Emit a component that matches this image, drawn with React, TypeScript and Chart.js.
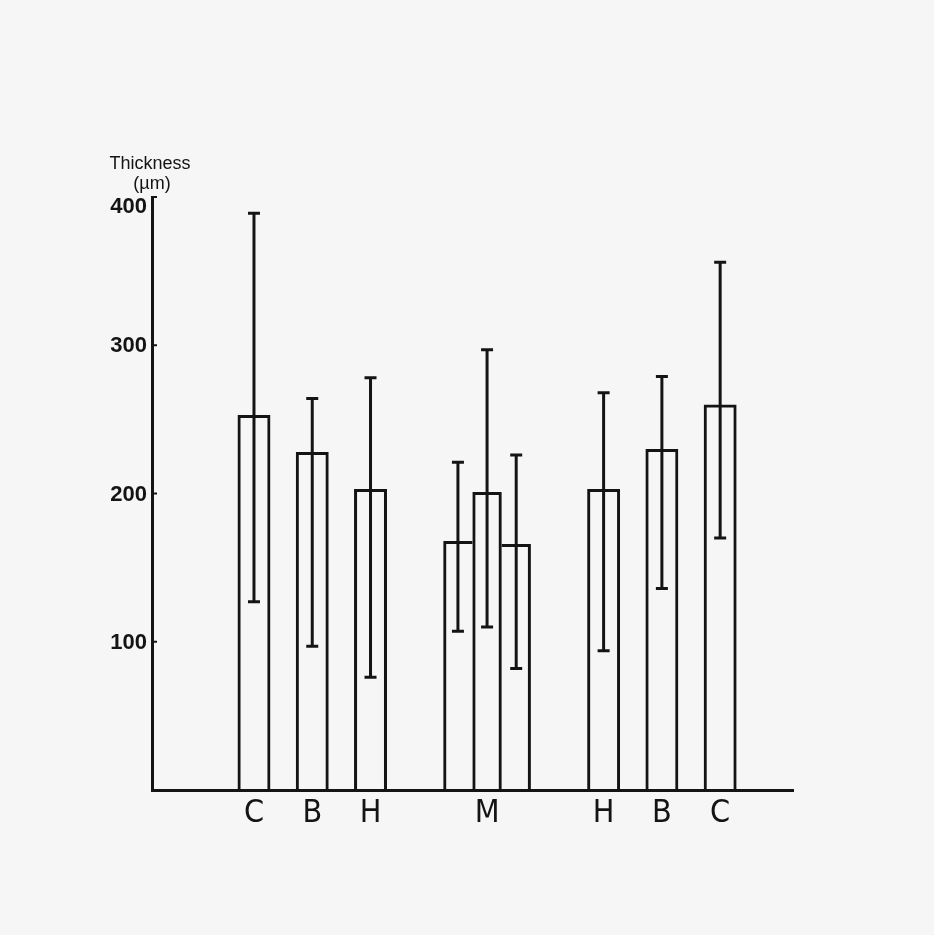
import React, { useEffect, useRef } from "react";
import { Chart, registerables } from "chart.js";

Chart.register(...registerables);

// 22 category slots; blank slots create the gaps between groups
const categories = ["", "", "", "C", "", "B", "", "H", "", "", "", "M", "", "", "", "H", "", "B", "", "C", "", ""];
// outer groups (C, B, H ... H, B, C)
const sideMeans: (number | null)[] = [null, null, null, 253, null, 228, null, 203, null, null, null, null, null, null, null, 203, null, 230, null, 260, null, null];
// middle group (M), three adjoining bars
const middleMeans: (number | null)[] = [null, null, null, null, null, null, null, null, null, null, 168, 201, 166, null, null, null, null, null, null, null, null, null];
const errorHigh: (number | null)[] = [null, null, null, 389, null, 264, null, 278, null, null, 221, 297, 226, null, null, 268, null, 279, null, 356, null, null];
const errorLow: (number | null)[] = [null, null, null, 127, null, 97, null, 76, null, null, 107, 110, 82, null, null, 94, null, 136, null, 170, null, null];
const yTicks = [100, 200, 300, 400];
const axisTitle = ["Thickness", "(µm)"];

const INK = "#141414";

const bgPlugin = {
  id: "bg",
  beforeDraw(chart: any) {
    const { ctx, width, height } = chart;
    ctx.save();
    ctx.fillStyle = "#f6f6f6";
    ctx.fillRect(0, 0, width, height);
    ctx.restore();
  },
};

const overlayPlugin = {
  id: "overlay",
  afterDatasetsDraw(chart: any) {
    const { ctx } = chart;
    const xs = chart.scales.x;
    const ys = chart.scales.y;
    ctx.save();
    ctx.strokeStyle = INK;
    ctx.lineCap = "butt";
    errorHigh.forEach((hi, i) => {
      const lo = errorLow[i];
      if (hi == null || lo == null) return;
      const x = xs.getPixelForValue(i);
      const yh = ys.getPixelForValue(hi);
      const yl = ys.getPixelForValue(lo);
      ctx.lineWidth = 3;
      ctx.beginPath();
      ctx.moveTo(x, yh);
      ctx.lineTo(x, yl);
      ctx.stroke();
      ctx.beginPath();
      ctx.moveTo(x - 6, yh);
      ctx.lineTo(x + 6, yh);
      ctx.moveTo(x - 6, yl);
      ctx.lineTo(x + 6, yl);
      ctx.stroke();
    });
    const left = chart.chartArea.left;
    // small tick marks to the right of the y axis
    ctx.lineWidth = 2;
    yTicks.forEach((v) => {
      const y = ys.getPixelForValue(v);
      ctx.beginPath();
      ctx.moveTo(left, y);
      ctx.lineTo(left + 5, y);
      ctx.stroke();
    });
    // y tick labels
    ctx.fillStyle = INK;
    ctx.font = "bold 22px 'Liberation Sans', Arial, sans-serif";
    ctx.textAlign = "right";
    ctx.textBaseline = "middle";
    yTicks.forEach((v, i) => {
      const y = ys.getPixelForValue(v) + (i === yTicks.length - 1 ? 10 : 1);
      ctx.fillText(String(v), left - 5, y);
    });
    // axis title
    ctx.font = "18px 'Liberation Sans', Arial, sans-serif";
    ctx.textAlign = "center";
    ctx.textBaseline = "alphabetic";
    ctx.fillText(axisTitle[0], left - 2, 169);
    ctx.fillText(axisTitle[1], left, 189);
    ctx.restore();
  },
};

export default function App() {
  const ref = useRef<HTMLCanvasElement | null>(null);

  useEffect(() => {
    if (!ref.current) return;
    const chart = new Chart(ref.current, {
      type: "bar",
      data: {
        labels: categories,
        datasets: [
          {
            data: sideMeans,
            backgroundColor: "rgba(0,0,0,0)",
            borderColor: INK,
            borderWidth: { top: 3, left: 3, right: 3, bottom: 0 },
            borderSkipped: false,
            barPercentage: 1.13,
            categoryPercentage: 1,
            grouped: false,
          } as any,
          {
            data: middleMeans,
            backgroundColor: "rgba(0,0,0,0)",
            borderColor: INK,
            borderWidth: (c: any) =>
              c.dataIndex === 10
                ? { top: 3, left: 3, right: 0, bottom: 0 }
                : c.dataIndex === 12
                ? { top: 3, left: 0, right: 3, bottom: 0 }
                : { top: 3, left: 3, right: 3, bottom: 0 },
            borderSkipped: false,
            barPercentage: 1.01,
            categoryPercentage: 1,
            grouped: false,
          } as any,
        ],
      },
      options: {
        animation: false,
        responsive: false,
        devicePixelRatio: 1,
        layout: { padding: { left: 92, right: 141, top: 197, bottom: 90 } },
        plugins: {
          legend: { display: false },
          tooltip: { enabled: false },
          title: { display: false },
        },
        scales: {
          x: {
            type: "category",
            grid: { display: false, drawTicks: false },
            border: { display: true, color: INK, width: 3 },
            ticks: {
              autoSkip: false,
              maxRotation: 0,
              minRotation: 0,
              padding: 4,
              color: INK,
              font: { family: "'Liberation Sans Narrow', 'DejaVu Sans Condensed', 'Liberation Sans', sans-serif", size: 32 },
            },
            afterFit: (s: any) => {
              s.height = 55;
            },
          },
          y: {
            min: 0,
            max: 400,
            grid: { display: false, drawTicks: false },
            border: { display: true, color: INK, width: 3 },
            ticks: {
              display: false,
              stepSize: 100,
            },
            afterFit: (s: any) => {
              s.width = 60;
            },
          },
        },
      },
      plugins: [bgPlugin, overlayPlugin],
    });
    return () => chart.destroy();
  }, []);

  return (
    <div style={{ position: "fixed", left: 0, top: 0, width: 934, height: 935 }}>
      <canvas ref={ref} width={934} height={935} style={{ display: "block" }} />
    </div>
  );
}
